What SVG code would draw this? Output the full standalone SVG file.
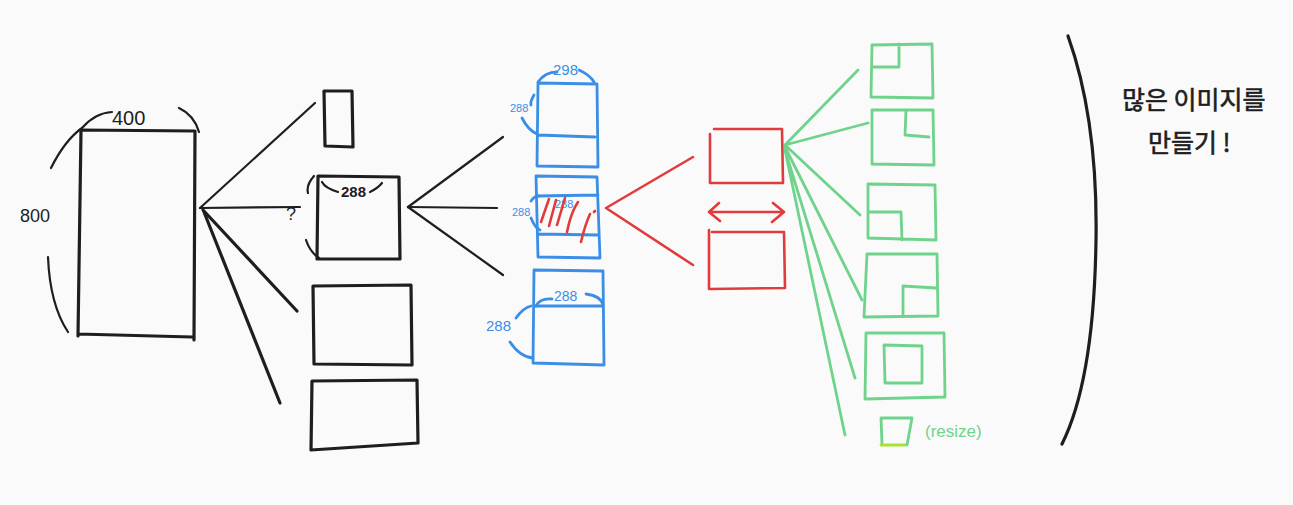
<svg xmlns="http://www.w3.org/2000/svg" width="1293" height="505" viewBox="0 0 1293 505">
<style>
.k{fill:none;stroke:#1e1e1e;stroke-width:3.2;stroke-linecap:round;stroke-linejoin:round}
.kt{fill:none;stroke:#1e1e1e;stroke-width:2.2;stroke-linecap:round;stroke-linejoin:round}
.b{fill:none;stroke:#3a8ee6;stroke-width:2.8;stroke-linecap:round;stroke-linejoin:round}
.r{fill:none;stroke:#e23b3b;stroke-width:2.6;stroke-linecap:round;stroke-linejoin:round}
.g{fill:none;stroke:#6fd38c;stroke-width:2.8;stroke-linecap:round;stroke-linejoin:round}
.tk{font-family:"Liberation Sans",Arial,sans-serif;fill:#1e1e1e}
.tb{font-family:"Liberation Sans",Arial,sans-serif;fill:#3a8ee6;font-size:14px}
.tg{font-family:"Liberation Sans",Arial,sans-serif;fill:#6fd38c;font-size:17px}
.ko{font-family:"Noto Sans CJK KR","Noto Sans",sans-serif;fill:#1e1e1e;font-size:25px;stroke:#1e1e1e;stroke-width:0.6}
</style>
<rect width="1293" height="505" fill="#fafafa"/>
<g id="connectors">
<path class="kt" d="M200,208 L315,103"/>
<path class="kt" d="M200,208 L300,207"/>
<path class="k" d="M203,210 L297,311"/>
<path class="k" d="M204,212 L280,403"/>
<path class="kt" d="M408,207 L503,137"/>
<path class="kt" d="M408,207 L497,208"/>
<path class="kt" d="M408,207 L503,275"/>
<path class="r" d="M693,157 L606,208 L693,265"/>
<path class="r" d="M709,212 L784,212 M719,203 L709,212 L720,221 M773,203 L784,212 L772,222"/>
<path class="g" d="M785,145 L858,70 M785,145 L868,123 M785,145 L860,215 M785,147 L862,300 M785,150 L855,378 M785,150 L845,435"/>
</g>
<g id="n-src">
<path class="k" d="M80,130 L195,131 M81,131 L78,336 M195,131 L194,340 M78,334 L192,337"/>
<path class="kt" d="M51,168 Q65,140 82,128 Q95,113 112,112 M179,108 Q194,115 199,132 M48,257 Q50,305 68,332"/>
<text class="tk" x="112" y="125" font-size="20">400</text>
<text class="tk" x="20" y="222" font-size="18">800</text>
</g>
<g id="n-b1"><path class="k" d="M324,91 L352,91 L353,147 L325,146 Z"/></g>
<g id="n-b2">
<path class="k" d="M318,176 L399,177 L400,259 L317,259 Z"/>
<path class="kt" d="M322,182 Q325,188 338,192 M382,183 Q378,188 370,192 M314,176 Q306,185 308,193 M306,240 Q310,252 319,258"/>
<text class="tk" x="341" y="197" font-size="15" font-weight="bold">288</text>
<text class="tk" x="286" y="220" font-size="18">?</text>
</g>
<g id="n-b3"><path class="k" d="M313,286 L411,285 L412,365 L314,364 Z"/></g>
<g id="n-b4"><path class="k" d="M312,381 L417,380 L418,443 L311,450 Z"/></g>
<g id="n-blue1">
<path class="b" d="M538,83 L597,84 L598,167 L537,166 Z M538,135 L595,137"/>
<path class="b" d="M538,82 Q545,72 557,72 M579,70 Q590,75 594,82 M534,95 Q530,102 531,105 M522,118 Q528,130 537,134"/>
<text x="553" y="75" style="fill:#3a8ee6;font-size:15px;font-family:'Liberation Sans',sans-serif">298</text>
<text class="tb" x="510" y="112" style="font-size:11px">288</text>
</g>
<g id="n-blue2">
<path class="b" d="M536,176 L597,177 L600,258 L538,257 Z M537,196 L598,195 M538,234 L597,235"/>
<path class="b" d="M531,201 Q535,195 540,196 M531,218 Q535,228 540,230"/>
<text class="tb" x="512" y="216" style="font-size:11px">288</text>
<text class="tb" x="555" y="208" style="font-size:11px">288</text>
<path class="r" d="M541,222 L549,199 M549,226 L556,200 M557,225 L565,198 M567,232 Q571,212 578,202 M581,242 Q585,225 590,214 M595,211 L594,212"/>
</g>
<g id="n-blue3">
<path class="b" d="M534,270 L603,271 L604,365 L533,363 Z M535,306 L602,306"/>
<path class="b" d="M536,306 Q540,298 552,299 M586,294 Q601,296 603,305 M531,306 Q523,308 516,318 M510,342 Q520,357 533,358"/>
<text class="tb" x="554" y="301">288</text>
<text class="tb" x="486" y="331" style="font-size:15px">288</text>
</g>
<g id="n-red1"><path class="r" d="M714,129 L782,129 L783,183 L710,183 L710,134"/></g>
<g id="n-red2"><path class="r" d="M712,232 L784,232 L785,288 L709,289 L709,230"/></g>
<g id="n-g1"><path class="g" d="M872,45 L932,44 L933,98 L871,97 Z M899,44 L899,67 L872,67"/></g>
<g id="n-g2"><path class="g" d="M872,110 L933,110 L934,165 L872,164 Z M906,110 L905,135 L929,137"/></g>
<g id="n-g3"><path class="g" d="M868,184 L935,185 L936,240 L868,238 Z M870,212 L901,212 L902,240"/></g>
<g id="n-g4"><path class="g" d="M867,254 L937,254 L938,316 L864,317 Z M903,315 L903,286 L936,288"/></g>
<g id="n-g5"><path class="g" d="M866,333 L944,333 L945,397 L865,399 Z M884,345 L922,346 L922,383 L885,383 Z"/></g>
<g id="n-g6">
<path class="g" d="M881,418 L912,418 L907,445 M881,418 L882,444"/>
<path d="M881,445 L905,445" fill="none" stroke="#a6e22e" stroke-width="2.8" stroke-linecap="round"/>
<text class="tg" x="925" y="437">(resize)</text>
</g>
<g id="n-bracket"><path class="k" d="M1068,36 Q1098,120 1096,240 Q1094,380 1062,444"/></g>
<g id="n-note">
<text class="ko" x="1122" y="109">많은 이미지를</text>
<text class="ko" x="1148" y="152">만들기 !</text>
</g>
</svg>
